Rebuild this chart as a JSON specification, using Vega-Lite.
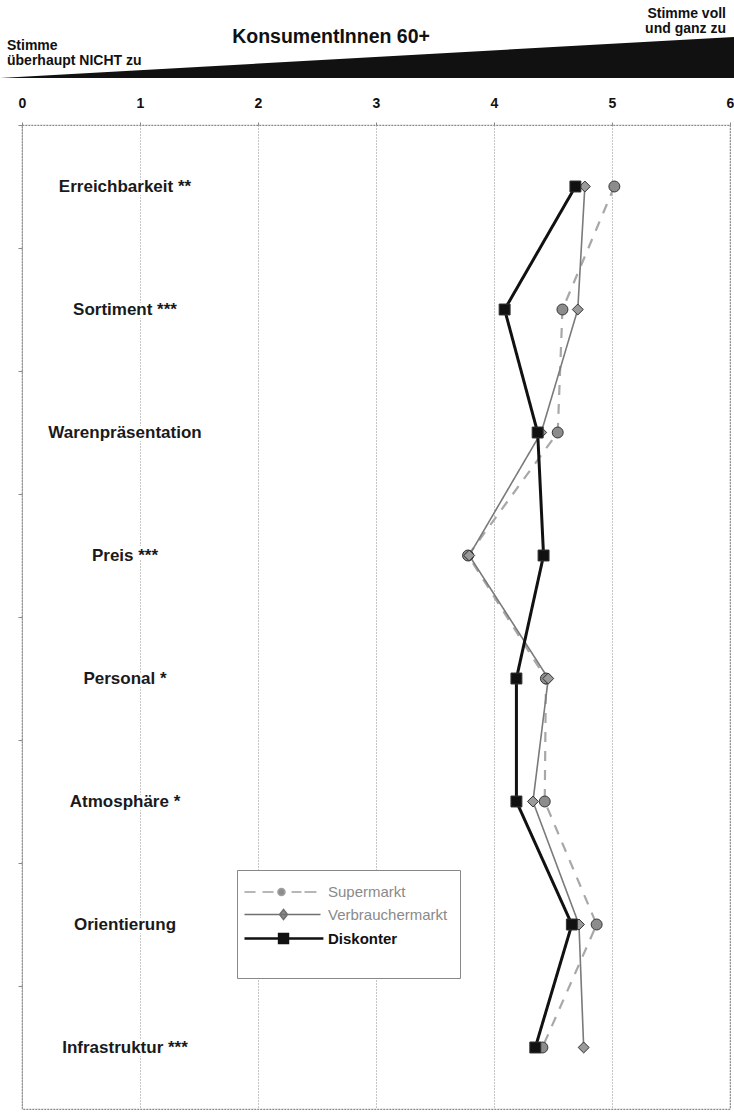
{
  "$schema": "https://vega.github.io/schema/vega-lite/v6.json",
  "background": "white",
  "padding": 0,
  "config": {
    "font": "Liberation Sans",
    "text": {"font": "Liberation Sans"},
    "axis": {"labelFont": "Liberation Sans"},
    "legend": {"labelFont": "Liberation Sans", "titleFont": "Liberation Sans"}
  },
  "datasets": {
    "scores": [
      {"kategorie": "Erreichbarkeit **", "markt": "Supermarkt", "wert": 5.02},
      {"kategorie": "Sortiment ***", "markt": "Supermarkt", "wert": 4.58},
      {"kategorie": "Warenpräsentation", "markt": "Supermarkt", "wert": 4.54},
      {"kategorie": "Preis ***", "markt": "Supermarkt", "wert": 3.78},
      {"kategorie": "Personal *", "markt": "Supermarkt", "wert": 4.44},
      {"kategorie": "Atmosphäre *", "markt": "Supermarkt", "wert": 4.43},
      {"kategorie": "Orientierung", "markt": "Supermarkt", "wert": 4.87},
      {"kategorie": "Infrastruktur ***", "markt": "Supermarkt", "wert": 4.41},
      {"kategorie": "Erreichbarkeit **", "markt": "Verbrauchermarkt", "wert": 4.77},
      {"kategorie": "Sortiment ***", "markt": "Verbrauchermarkt", "wert": 4.71},
      {"kategorie": "Warenpräsentation", "markt": "Verbrauchermarkt", "wert": 4.4},
      {"kategorie": "Preis ***", "markt": "Verbrauchermarkt", "wert": 3.79},
      {"kategorie": "Personal *", "markt": "Verbrauchermarkt", "wert": 4.46},
      {"kategorie": "Atmosphäre *", "markt": "Verbrauchermarkt", "wert": 4.33},
      {"kategorie": "Orientierung", "markt": "Verbrauchermarkt", "wert": 4.72},
      {"kategorie": "Infrastruktur ***", "markt": "Verbrauchermarkt", "wert": 4.76},
      {"kategorie": "Erreichbarkeit **", "markt": "Diskonter", "wert": 4.69},
      {"kategorie": "Sortiment ***", "markt": "Diskonter", "wert": 4.09},
      {"kategorie": "Warenpräsentation", "markt": "Diskonter", "wert": 4.37},
      {"kategorie": "Preis ***", "markt": "Diskonter", "wert": 4.42},
      {"kategorie": "Personal *", "markt": "Diskonter", "wert": 4.19},
      {"kategorie": "Atmosphäre *", "markt": "Diskonter", "wert": 4.19},
      {"kategorie": "Orientierung", "markt": "Diskonter", "wert": 4.66},
      {"kategorie": "Infrastruktur ***", "markt": "Diskonter", "wert": 4.35}
    ],
    "cats": [
      {"kategorie": "Erreichbarkeit **"},
      {"kategorie": "Sortiment ***"},
      {"kategorie": "Warenpräsentation"},
      {"kategorie": "Preis ***"},
      {"kategorie": "Personal *"},
      {"kategorie": "Atmosphäre *"},
      {"kategorie": "Orientierung"},
      {"kategorie": "Infrastruktur ***"}
    ]
  },
  "resolve": {"scale": {"x": "independent", "y": "independent"}},
  "bounds": "flush",
  "spacing": 47,
  "vconcat": [
    {
      "width": 708,
      "height": 78,
      "view": {"stroke": null},
      "layer": [
        {
          "data": {"values": [{"s": -0.186, "h": 0}, {"s": 6.034, "h": 0.526}]},
          "mark": {"type": "area", "color": "#111111", "opacity": 1},
          "encoding": {
            "x": {"field": "s", "type": "quantitative", "scale": {"domain": [0, 6], "nice": false, "zero": false}, "axis": null},
            "y": {"field": "h", "type": "quantitative", "scale": {"domain": [0, 1], "nice": false}, "axis": null}
          }
        },
        {
          "data": {"values": [{"t": "KonsumentInnen 60+"}]},
          "mark": {"type": "text", "fontSize": 19.5, "fontWeight": "bold", "align": "center", "baseline": "alphabetic", "color": "#111"},
          "encoding": {"text": {"field": "t"}, "x": {"datum": 2.619}, "y": {"datum": 0.449}}
        },
        {
          "data": {"values": [{"t": "Stimme\nüberhaupt NICHT zu"}]},
          "mark": {"type": "text", "fontSize": 14, "fontWeight": "bold", "align": "left", "baseline": "alphabetic", "lineBreak": "\n", "lineHeight": 15, "color": "#111"},
          "encoding": {"text": {"field": "t"}, "x": {"datum": -0.127}, "y": {"datum": 0.359}}
        },
        {
          "data": {"values": [{"t": "Stimme voll\nund ganz zu"}]},
          "mark": {"type": "text", "fontSize": 14, "fontWeight": "bold", "align": "right", "baseline": "alphabetic", "lineBreak": "\n", "lineHeight": 15, "color": "#111"},
          "encoding": {"text": {"field": "t"}, "x": {"datum": 5.966}, "y": {"datum": 0.769}}
        }
      ]
    },
    {
      "width": 708,
      "height": 984,
      "view": {"stroke": "#8a8a8a", "strokeDash": [2, 1], "strokeWidth": 1.2},
      "resolve": {"scale": {"shape": "independent", "fill": "independent", "stroke": "independent", "strokeWidth": "independent"}},
      "layer": [
        {
          "data": {"name": "scores"},
          "mark": {"type": "line"},
          "encoding": {
            "x": {
              "field": "wert", "type": "quantitative",
              "scale": {"domain": [0, 6], "nice": false, "zero": false},
              "axis": {
                "orient": "top", "values": [0, 1, 2, 3, 4, 5, 6], "format": "d",
                "labelFontWeight": "bold", "labelFontSize": 14, "labelColor": "#111",
                "tickSize": 3, "tickColor": "#888", "labelPadding": 12, "labelFlush": false,
                "grid": true, "gridDash": [1, 2], "gridColor": "#8a8a8a", "gridWidth": 1,
                "domain": false, "title": null
              }
            },
            "y": {
              "field": "kategorie", "type": "nominal",
              "sort": ["Erreichbarkeit **", "Sortiment ***", "Warenpräsentation", "Preis ***", "Personal *", "Atmosphäre *", "Orientierung", "Infrastruktur ***"],
              "scale": {"type": "band", "paddingInner": 0, "paddingOuter": 0},
              "axis": {"labels": false, "ticks": true, "tickSize": 4, "bandPosition": 0, "domain": false, "grid": false, "title": null, "tickColor": "#888"}
            },
            "stroke": {
              "field": "markt", "type": "nominal",
              "scale": {"domain": ["Diskonter", "Verbrauchermarkt", "Supermarkt"], "range": ["#111111", "#7a7a7a", "#a8a8a8"]},
              "legend": null
            },
            "strokeDash": {
              "field": "markt", "type": "nominal",
              "scale": {"domain": ["Diskonter", "Verbrauchermarkt", "Supermarkt"], "range": [[1, 0], [1, 0], [10, 9]]},
              "legend": null
            },
            "strokeWidth": {
              "field": "markt", "type": "nominal",
              "scale": {"type": "ordinal", "domain": ["Diskonter", "Verbrauchermarkt", "Supermarkt"], "range": [3, 1.6, 2.2]},
              "legend": null
            }
          }
        },
        {
          "data": {"name": "scores"},
          "mark": {"type": "point", "filled": true, "size": 120, "stroke": "#333", "strokeWidth": 1, "opacity": 1},
          "encoding": {
            "x": {"field": "wert", "type": "quantitative"},
            "y": {"field": "kategorie", "type": "nominal", "sort": ["Erreichbarkeit **", "Sortiment ***", "Warenpräsentation", "Preis ***", "Personal *", "Atmosphäre *", "Orientierung", "Infrastruktur ***"]},
            "fill": {
              "field": "markt", "type": "nominal",
              "scale": {"domain": ["Diskonter", "Verbrauchermarkt", "Supermarkt"], "range": ["#111111", "#9a9a9a", "#8c8c8c"]},
              "legend": null
            },
            "shape": {
              "field": "markt", "type": "nominal",
              "scale": {"domain": ["Diskonter", "Verbrauchermarkt", "Supermarkt"], "range": ["square", "diamond", "circle"]},
              "legend": null
            }
          }
        },
        {
          "data": {"name": "scores"},
          "transform": [{"filter": "false"}],
          "mark": {"type": "point", "filled": true, "opacity": 1},
          "encoding": {
            "x": {"field": "wert", "type": "quantitative"},
            "y": {"field": "kategorie", "type": "nominal", "sort": ["Erreichbarkeit **", "Sortiment ***", "Warenpräsentation", "Preis ***", "Personal *", "Atmosphäre *", "Orientierung", "Infrastruktur ***"]},
            "shape": {
              "field": "markt", "type": "nominal",
              "scale": {
                "domain": ["Supermarkt", "Verbrauchermarkt", "Diskonter"],
                "range": [
                  "M-1.67,0H-0.44M0.33,0H1.56M3.56,0H4.67M5,0H6.33M2.83,0A0.39,0.39 0 1,1 2.05,0A0.39,0.39 0 1,1 2.83,0Z",
                  "M-1.67,0H6.78M2.67,-0.56L3.11,0L2.67,0.56L2.23,0Z",
                  "M-1.67,0H7.1M2.17,-0.5H3.17V0.5H2.17Z"
                ]
              },
              "legend": {
                "title": " ", "titleOrient": "bottom", "titleFontSize": 10, "titlePadding": 8,
                "orient": "none", "legendX": 215, "legendY": 745,
                "padding": 12, "strokeColor": "#888", "fillColor": "white",
                "symbolSize": 324, "labelOffset": 58, "rowPadding": 4.5, "labelFontSize": 15,
                "labelColor": {"expr": "datum.value === 'Diskonter' ? '#111111' : '#8a8a8a'"},
                "labelFontWeight": {"expr": "datum.value === 'Diskonter' ? 'bold' : 'normal'"}
              }
            },
            "fill": {
              "field": "markt", "type": "nominal",
              "scale": {"domain": ["Supermarkt", "Verbrauchermarkt", "Diskonter"], "range": ["#8c8c8c", "#8a8a8a", "#111111"]}
            },
            "stroke": {
              "field": "markt", "type": "nominal",
              "scale": {"domain": ["Supermarkt", "Verbrauchermarkt", "Diskonter"], "range": ["#a0a0a0", "#707070", "#111111"]}
            },
            "strokeWidth": {
              "field": "markt", "type": "nominal",
              "scale": {"type": "ordinal", "domain": ["Supermarkt", "Verbrauchermarkt", "Diskonter"], "range": [1.6, 1.6, 2.4]}
            }
          }
        },
        {
          "data": {"name": "cats"},
          "mark": {"type": "text", "fontSize": 17, "fontWeight": "bold", "align": "center", "baseline": "middle", "stroke": "white", "strokeWidth": 6, "fill": "white"},
          "encoding": {
            "text": {"field": "kategorie"},
            "x": {"datum": 0.873},
            "y": {"field": "kategorie", "type": "nominal", "sort": ["Erreichbarkeit **", "Sortiment ***", "Warenpräsentation", "Preis ***", "Personal *", "Atmosphäre *", "Orientierung", "Infrastruktur ***"]}
          }
        },
        {
          "data": {"name": "cats"},
          "mark": {"type": "text", "fontSize": 17, "fontWeight": "bold", "align": "center", "baseline": "middle", "color": "#1a1a1a"},
          "encoding": {
            "text": {"field": "kategorie"},
            "x": {"datum": 0.873},
            "y": {"field": "kategorie", "type": "nominal", "sort": ["Erreichbarkeit **", "Sortiment ***", "Warenpräsentation", "Preis ***", "Personal *", "Atmosphäre *", "Orientierung", "Infrastruktur ***"]}
          }
        }
      ]
    }
  ]
}
